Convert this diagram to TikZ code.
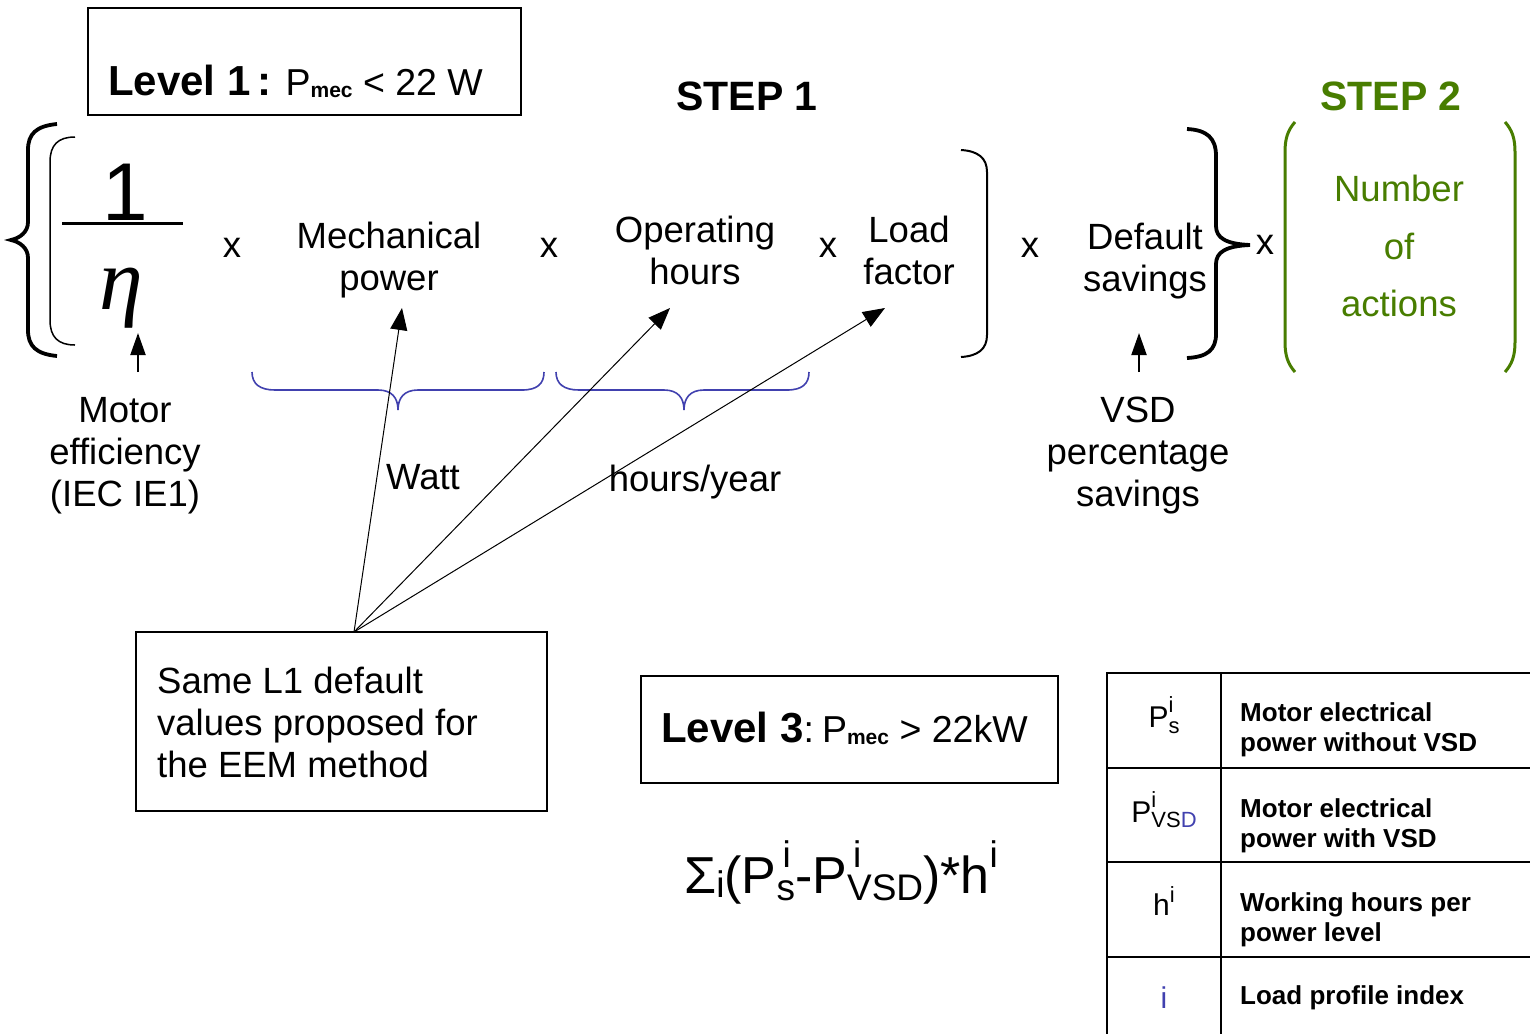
\documentclass[tikz,border=0pt]{standalone}
\usepackage{fontspec}
\setmainfont{Liberation Sans}
\newfontfamily\etafont{Liberation Serif}
\usetikzlibrary{arrows.meta}
\definecolor{stepgreen}{RGB}{72,125,0}
\definecolor{braceblue}{RGB}{65,65,175}
\newcommand\fs[1]{\fontsize{#1}{#1}\selectfont}
% #1 size, #2 raise, #3 lower, #4 sup, #5 sub
\newcommand\supsub[5]{\rlap{\raisebox{#2}{\fs{#1}#4}}\raisebox{-#3}{\fs{#1}#5}}
\begin{document}
\begin{tikzpicture}[x=1pt,y=-1pt,
  lbl/.style={inner sep=0pt, align=center, font=\fontsize{36.5}{42}\selectfont},
  grn/.style={inner sep=0pt, align=center, text=stepgreen, font=\fontsize{36.5}{57.5}\selectfont},
  times/.style={inner sep=0pt, font=\fontsize{36.5}{42}\selectfont},
  boxed/.style={draw, line width=1.6pt, inner sep=0pt},
  ptr/.style={-{Triangle[length=22pt,width=17pt]}, line width=1pt},
  uparr/.style={-{Triangle[length=22pt,width=15pt]}, line width=2pt},
  tbl/.style={line width=2.4pt},
  desc/.style={inner sep=0pt, anchor=base west, align=left, font=\fontsize{26}{30}\selectfont\bfseries},
  sym/.style={inner sep=0pt, anchor=base, font=\fontsize{30}{30}\selectfont},
  ubrace/.style={draw=braceblue, line width=1.6pt},
  ]
\useasboundingbox[fill=white] (0,0) rectangle (1530,1034);

% ---------- Level 1 box ----------
\node[boxed, minimum width=433pt, minimum height=107pt] (lvl1box) at (304.5,61.5) {};
\node[inner sep=0pt, anchor=base west] (lvl1) at (108,95)
  {{\fs{42}\bfseries Level 1\,:}\hspace{14pt}{\fs{37.5}P}\raisebox{-2pt}{\fs{21}\bfseries mec}{\fs{37.5} < 22 W}};

% ---------- step titles ----------
\node[inner sep=0pt, anchor=base, font=\fontsize{41}{41}\selectfont\bfseries] (step1) at (747,110) {STEP 1};
\node[inner sep=0pt, anchor=base, text=stepgreen, font=\fontsize{41}{41}\selectfont\bfseries] (step2) at (1391,110) {STEP 2};

% ---------- outer brace and inner bracket ----------
\draw[line width=3.8pt] (57,124) .. controls (36,126) and (28,134) .. (28,150)
  -- (28,222) .. controls (28,232) and (20,238) .. (11,240)
  .. controls (20,242) and (28,248) .. (28,258)
  -- (28,330) .. controls (28,346) and (36,354) .. (57,356);
\draw[line width=1.5pt] (75,137) .. controls (58,137) and (50,145) .. (50,162)
  -- (50,320) .. controls (50,337) and (58,345) .. (75,345);

% ---------- fraction ----------
\node[inner sep=0pt, anchor=base, font=\fontsize{82}{82}\selectfont] (one) at (125,220) {1};
\draw[line width=3pt] (62,223.5) -- (183,223.5);
\node[inner sep=0pt, anchor=base, font=\etafont\itshape\fontsize{88}{88}\selectfont] (eta) at (121,309) {η};
\coordinate (etaarr) at (138,372);
\coordinate (etatip) at (138,333);
\draw[uparr] (etaarr) -- (etatip);
\node[lbl] (eff) at (125,456) {Motor\\efficiency\\(IEC IE1)};

% ---------- product terms ----------
\node[times] (x1) at (232,248) {x};
\node[lbl] (mech) at (389,260) {Mechanical\\power};
\node[times] (x2) at (549,248) {x};
\node[lbl] (oper) at (695,250) {Operating\\hours};
\node[times] (x3) at (828,248) {x};
\node[lbl] (load) at (909,250) {Load\\factor};
\draw[line width=2pt] (961,150) .. controls (978,151) and (987,158) .. (987,172)
  -- (987,335) .. controls (987,349) and (978,356) .. (961,357);
\node[times] (x4) at (1030,248) {x};
\node[lbl] (dflt) at (1145,261) {Default\\savings};
\draw[line width=3.8pt] (1187,129) .. controls (1207,130) and (1216,138) .. (1216,156)
  -- (1216,226) .. controls (1216,238) and (1226,244) .. (1250,245)
  .. controls (1226,246) and (1216,252) .. (1216,264)
  -- (1216,334) .. controls (1216,350) and (1207,357) .. (1187,358);
\node[times] (x5) at (1265,245) {x};
\coordinate (vsdarr) at (1139,372);
\coordinate (vsdtip) at (1139,333);
\draw[uparr] (vsdarr) -- (vsdtip);
\node[lbl] (vsd) at (1138,456) {VSD\\percentage\\savings};

% ---------- step 2 ----------
\draw[stepgreen, line width=3pt] (1295,122) .. controls (1288,130) and (1285,138) .. (1285,152)
  -- (1285,342) .. controls (1285,356) and (1288,364) .. (1295,372);
\draw[stepgreen, line width=3pt] (1505,122) .. controls (1512,130) and (1515,138) .. (1515,152)
  -- (1515,342) .. controls (1515,356) and (1512,364) .. (1505,372);
\node[grn] (nact) at (1399,246) {Number\\of\\actions};

% ---------- blue under-braces ----------
\draw[ubrace] (252,372) .. controls (252,384) and (260,390) .. (275,390)
  -- (378,390) .. controls (392,390) and (398,398) .. (398,410)
  .. controls (398,398) and (404,390) .. (418,390)
  -- (522,390) .. controls (537,390) and (544,384) .. (544,372);
\draw[ubrace] (556,372) .. controls (556,384) and (564,390) .. (579,390)
  -- (664,390) .. controls (678,390) and (684,398) .. (684,410)
  .. controls (684,398) and (690,390) .. (704,390)
  -- (787,390) .. controls (802,390) and (809,384) .. (809,372);
\node[times] (watt) at (423,477) {Watt};
\node[times] (hy) at (695,482) {hours/year};

% ---------- L1 default box and pointers ----------
\node[boxed, minimum width=411pt, minimum height=179pt] (same) at (341.5,721.5) {};
\node[inner sep=0pt, anchor=west, align=left, font=\fontsize{36.5}{42}\selectfont] (sametxt) at (157,722)
  {Same L1 default\\values proposed for\\the EEM method};
\coordinate (src) at (354,632);
\coordinate (mechtip) at (402,308);
\coordinate (opertip) at (670,308);
\coordinate (loadtip) at (885,308);
\draw[ptr] (src) -- (mechtip);
\draw[ptr] (src) -- (opertip);
\draw[ptr] (src) -- (loadtip);

% ---------- Level 3 ----------
\node[boxed, minimum width=417pt, minimum height=107pt] (lvl3box) at (849.5,729.5) {};
\node[inner sep=0pt, anchor=base west] (lvl3) at (661,742)
  {{\fs{42}\bfseries Level 3}{\fs{37.5}:\hspace{8pt}P}\raisebox{-2pt}{\fs{21}\bfseries mec}{\fs{37.5} > 22kW}};

% ---------- formula ----------
\node[inner sep=0pt, anchor=base west, font=\fontsize{52}{52}\selectfont] (formula) at (684,893)
  {Σ\raisebox{-4pt}{\fs{37}i}(P\supsub{37}{26pt}{7pt}{\,i}{s}-P\supsub{37}{26pt}{7pt}{\,i}{VSD})*h\raisebox{26pt}{\fs{37}i}};

% ---------- table ----------
\draw[tbl] (1107,673) -- (1530,673);
\draw[tbl] (1107,768) -- (1530,768);
\draw[tbl] (1107,862) -- (1530,862);
\draw[tbl] (1107,957) -- (1530,957);
\draw[tbl] (1107,672) -- (1107,1034);
\draw[tbl] (1221,672) -- (1221,1034);
\node[sym] (s1) at (1164,727) {P\supsub{22}{15pt}{6pt}{i}{s}};
\node[sym] (s2) at (1164,822) {P\supsub{22}{15pt}{5pt}{i}{VS\textcolor{braceblue}{D}}};
\node[sym] (s3) at (1164,915) {h\raisebox{13pt}{\fs{22}i}};
\node[sym, text=braceblue] (s4) at (1164,1008) {i};
\node[desc] (d1) at (1240,751) {Motor electrical\\power without VSD};
\node[desc] (d2) at (1240,847) {Motor electrical\\power with VSD};
\node[desc] (d3) at (1240,941) {Working hours per\\power level};
\node[desc] (d4) at (1240,1004) {Load profile index};
\end{tikzpicture}
\end{document}
